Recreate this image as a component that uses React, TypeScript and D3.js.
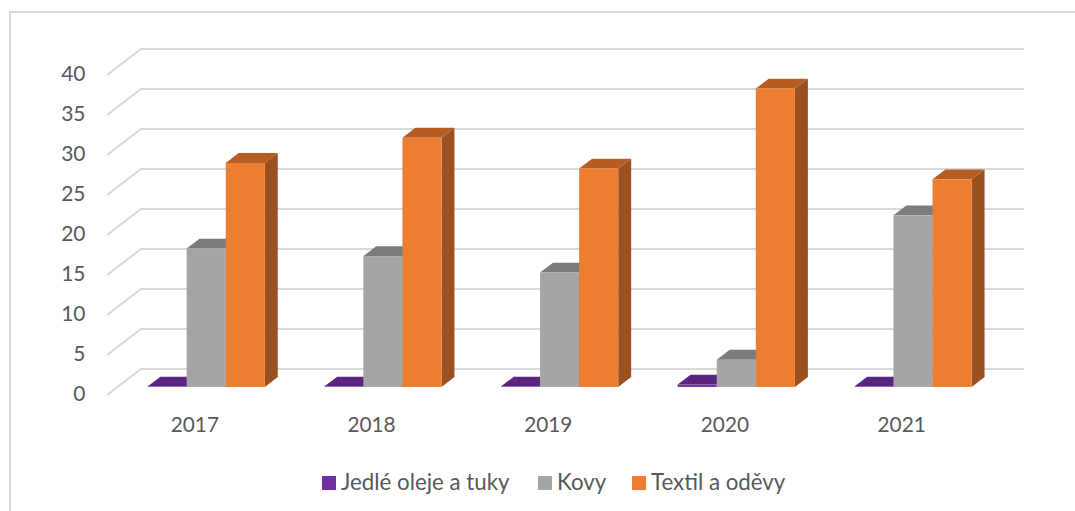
import React from "react";
import * as d3 from "d3";

const categories = ["2017", "2018", "2019", "2020", "2021"];
const seriesNames = ["Jedlé oleje a tuky", "Kovy", "Textil a oděvy"];
const oils = [0.05, 0.05, 0.05, 0.3, 0.05];
const metals = [17.3, 16.35, 14.3, 3.4, 21.45];
const textiles = [28.0, 31.15, 27.3, 37.3, 25.95];
const ticks = [0, 5, 10, 15, 20, 25, 30, 35, 40];
const seriesValues = [oils, metals, textiles];
const faceColors = ["#7030A0", "#A5A5A5", "#ED7D31"];
const topColors = ["#59267F", "#7C7C7C", "#B55D23"];
const sideColors = ["#4F2270", "#6E6E6E", "#9A5020"];

const W = 1075, H = 511;
const FONT = "Lato, Carlito, sans-serif";
const TEXT = "#595959";
const GRID = "#D9D9D9";

// floor: front edge y0, depth vector
const plotLeft = 107, plotRight = 990.5, frontY = 395;
const depthX = 34, depthY = -26;
const barNear = 0.31, barFar = 0.69;
const unit = 8;

const y = d3.scaleLinear().domain([0, 40]).range([frontY, frontY - 40 * unit]);
const x0 = d3.scaleBand<string>().domain(categories).range([plotLeft, plotRight]);
const barW = 39.1;
const nearDx = depthX * barNear, nearDy = depthY * barNear;
const bdx = depthX * (barFar - barNear), bdy = depthY * (barFar - barNear);

function poly(pts: [number, number][]) {
  return pts.map((p) => p.join(",")).join(" ");
}

export default function App() {
  const groupW = barW * 3;
  return (
    <svg width={W} height={H} style={{ position: "fixed", left: 0, top: 0, background: "#fff" }}>
      <rect x={10} y={12} width={1100} height={520} fill="#fff" stroke={GRID} strokeWidth={2} />
      {ticks.map((t) => (
        <g key={t}>
          <polyline
            points={poly([
              [plotLeft, y(t)],
              [plotLeft + depthX, y(t) + depthY],
              [plotRight + depthX - 0.5, y(t) + depthY],
            ])}
            fill="none"
            stroke={GRID}
            strokeWidth={2}
          />
          <text x={85.5} y={y(t) + 6} textAnchor="end" fontFamily={FONT} fontSize={21} fill={TEXT}>
            {t}
          </text>
        </g>
      ))}
      {categories.map((c, ci) => {
        const gx = x0(c)! + nearDx + (x0.bandwidth() - groupW) / 2 + 0.3;
        return (
          <g key={c}>
            {seriesValues.map((vals, si) => {
              const v = vals[ci];
              const l = gx + si * barW;
              const r = l + barW;
              const bot = y(0) + nearDy;
              const top = y(v) + nearDy;
              return (
                <g key={si}>
                  <polygon
                    points={poly([[r, bot], [r + bdx, bot + bdy], [r + bdx, top + bdy], [r, top]])}
                    fill={sideColors[si]}
                  />
                  <polygon
                    points={poly([[l, top], [l + bdx, top + bdy], [r + bdx, top + bdy], [r, top]])}
                    fill={topColors[si]}
                  />
                  <rect x={l} y={top} width={barW} height={bot - top} fill={faceColors[si]} />
                </g>
              );
            })}
            <text
              x={x0(c)! + x0.bandwidth() / 2 - 0.5}
              y={432}
              textAnchor="middle"
              fontFamily={FONT}
              fontSize={20.8}
              fill={TEXT}
            >
              {c}
            </text>
          </g>
        );
      })}
      {seriesNames.map((n, i) => {
        const lx = [322, 538, 632][i];
        return (
          <g key={n}>
            <rect x={lx} y={476} width={14} height={14} fill={faceColors[i]} />
            <text x={lx + 19} y={490} fontFamily={FONT} fontSize={22.3} fill={TEXT}>
              {n}
            </text>
          </g>
        );
      })}
    </svg>
  );
}
